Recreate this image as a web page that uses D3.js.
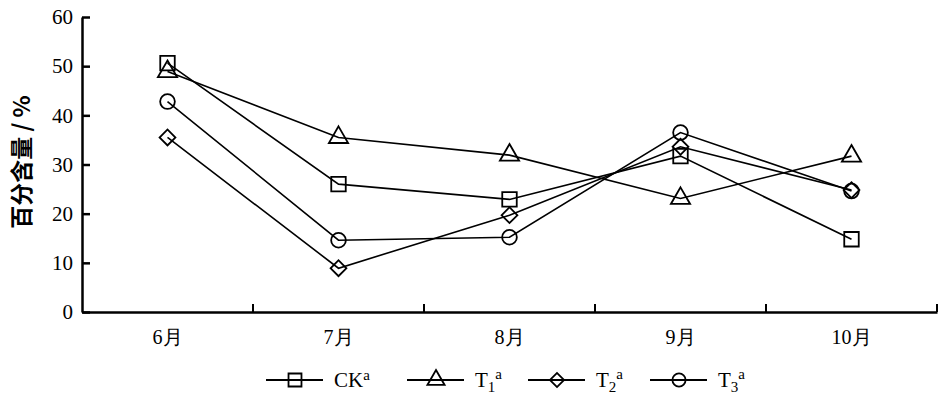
<!DOCTYPE html>
<html><head><meta charset="utf-8">
<script src="https://cdn.jsdelivr.net/npm/d3@7"></script>
<style>body{margin:0;background:#fff}svg{display:block}</style>
</head><body>
<svg id="c" width="945" height="409"></svg>
<script>
const months = ["6月","7月","8月","9月","10月"];
const yTicks = [0,10,20,30,40,50,60];
const ck = [50.6, 26.0, 22.9, 31.7, 14.8];
const t1 = [48.9, 35.5, 31.9, 23.1, 31.7];
const t2 = [35.5, 8.9, 19.7, 33.6, 24.8];
const t3 = [42.8, 14.6, 15.2, 36.5, 24.6];
const seriesNames = ["CK","T1","T2","T3"];
const seriesSymbols = ["square","triangle","diamond","circle"];

const series = [ck,t1,t2,t3].map((v,i)=>({name:seriesNames[i], sym:seriesSymbols[i], values:v}));

const svg = d3.select("#c");
const x = d3.scaleBand().domain(months).range([82, 937]);
const y = d3.scaleLinear().domain([0,60]).range([312, 17]);
const serif = "'Liberation Serif','Times New Roman',serif";

// Y axis
const ya = svg.append("g").attr("transform","translate(82,0)")
  .call(d3.axisLeft(y).tickValues(yTicks).tickSize(-8).tickSizeOuter(0).tickPadding(9));
ya.attr("font-family",serif);
ya.select(".domain").attr("stroke-width",2.5);
ya.selectAll(".tick line").attr("stroke-width",2.5);
ya.selectAll("text").attr("font-family",serif).attr("font-size",21).attr("fill","#000");

// X axis
const xa = svg.append("g").attr("transform","translate(0,312)")
  .call(d3.axisBottom(x).tickSize(0).tickSizeOuter(0).tickPadding(18));
xa.attr("font-family",serif);
xa.select(".domain").attr("stroke-width",2.5);
xa.selectAll("text").attr("font-family",serif).attr("font-size",20).attr("fill","#000");
svg.append("g").selectAll("line").data(months).join("line")
  .attr("x1",d=>x(d)+x.bandwidth()).attr("x2",d=>x(d)+x.bandwidth())
  .attr("y1",312).attr("y2",304).attr("stroke","#000").attr("stroke-width",2);

// Y label
svg.append("text").attr("transform","translate(30,162) rotate(-90)")
  .attr("text-anchor","middle").attr("font-family","'Noto Sans CJK SC',sans-serif")
  .attr("font-weight","bold").attr("font-size",23).text("百分含量 / %");

const symMap = {square:d3.symbolSquare, triangle:d3.symbolTriangle, diamond:d3.symbolSquare, circle:d3.symbolCircle};
const symSize = {square:210, triangle:160, diamond:125, circle:170};
function marker(g, sym, scale){
  g.append("path").attr("d", d3.symbol().type(symMap[sym]).size(symSize[sym]*(scale||1))())
    .attr("transform", sym==="diamond" ? "rotate(45)" : null)
    .attr("fill","none").attr("stroke","#000").attr("stroke-width",1.8);
}

const cx = d => x(d)+x.bandwidth()/2;
const line = d3.line().x((v,i)=>cx(months[i])).y(v=>y(v));
series.forEach(s=>{
  svg.append("path").attr("d",line(s.values)).attr("fill","none")
    .attr("stroke","#000").attr("stroke-width",1.6);
  s.values.forEach((v,i)=>{
    const g = svg.append("g").attr("transform",`translate(${cx(months[i])},${y(v)})`);
    marker(g, s.sym);
  });
});

// Legend
const legX = [266, 407, 528, 650];
const legY = 380;
series.forEach((s,i)=>{
  const g = svg.append("g").attr("transform",`translate(${legX[i]},${legY})`);
  g.append("line").attr("x1",0).attr("x2",57).attr("stroke","#000").attr("stroke-width",1.8);
  const m = g.append("g").attr("transform","translate(29,0)");
  marker(m, s.sym, 0.8);
  const t = g.append("text").attr("x",68).attr("y",7).attr("font-family",serif).attr("font-size",21);
  if(s.name==="CK"){
    t.append("tspan").text("CK");
    t.append("tspan").attr("dy",-7).attr("font-size",15).text("a");
  } else {
    t.append("tspan").text("T");
    t.append("tspan").attr("dy",5).attr("font-size",15).text(s.name[1]);
    t.append("tspan").attr("dy",-13).attr("font-size",15).text("a");
  }
});
</script>
</body></html>
